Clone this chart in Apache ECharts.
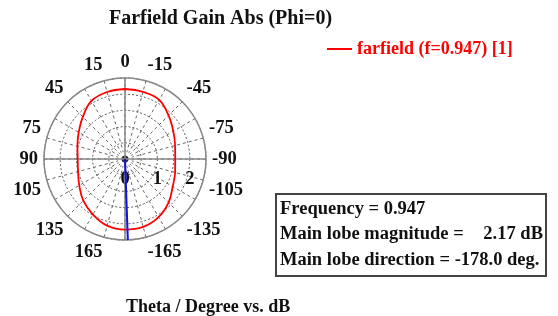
<!DOCTYPE html>
<html>
<head>
<meta charset="utf-8">
<script src="https://cdn.jsdelivr.net/npm/echarts@6/dist/echarts.min.js"></script>
<style>
    html, body { margin: 0; padding: 0; background: #fff; }
    #chart { width: 558px; height: 316px; }
</style>
</head>
<body>
<div id="chart"></div>
<script>
    // theta in degrees (CST convention: 0 up, positive to the left)
    const thetas = [0, 15, 30, 45, 60, 75, 90, 105, 120, 135, 150, 165, 180,
        -165, -150, -135, -120, -105, -90, -75, -60, -45, -30, -15]
    // farfield gain abs in dB
    const gains = [2.16, 2.14, 2.07, 1.84, 1.65, 1.52, 1.46, 1.50, 1.63, 1.82, 1.98, 2.13, 2.18,
        2.17, 2.07, 1.90, 1.70, 1.60, 1.55, 1.60, 1.72, 1.90, 2.11, 2.145]
    const angleLabels = [0, 15, -15, 45, -45, 75, -75, 90, -90, 105, -105, 135, -135, 165, -165]
    const radiusLabels = [0, 1, 2]
    const rMax = 2.5
    const frequency = '0.947'
    const mainLobeMag = '2.17 dB'
    const mainLobeDir = -178.0
    const seriesName = 'farfield (f=0.947) [1]'

    const font = 'Liberation Serif'
    const labelSize = 18.5
    // angle axis runs -90..270 so the radius axis lies along theta = -90
    const toAxis = t => (t < -90 ? t + 360 : t)

    const curve = thetas.map((t, i) => [gains[i], toAxis(t)])
    curve.push(curve[0])

    // echarts centres labels near the axes; push these to the side like the original
    const ctx = document.createElement('canvas').getContext('2d')
    ctx.font = 'bold ' + labelSize + 'px ' + font
    const rich = {}
    const richKey = t => 'a' + (t < 0 ? 'm' : 'p') + Math.abs(t)
    angleLabels.forEach(t => {
        const w = ctx.measureText(String(t)).width
        const h = 17
        const a = Math.abs(t)
        let padding = [0, 0, 0, 0]
        if (a === 15 || a === 165) padding = t > 0 ? [0, w, 0, 0] : [0, 0, 0, w]
        if (a === 75) padding = [0, 0, h, 0]
        if (a === 105) padding = [h, 0, 0, 0]
        rich[richKey(t)] = {
            padding: padding,
            fontFamily: font, fontWeight: 'bold', fontSize: labelSize, color: '#111'
        }
    })

    const chart = echarts.init(document.getElementById('chart'))
    const options = {
        animation: false,
        title: [
            {
                text: 'Farfield Gain Abs (Phi=0)',
                left: 104, top: 4,
                textStyle: { fontFamily: font, fontWeight: 'bold', fontSize: 20, color: '#111' }
            },
            {
                text: 'Theta / Degree vs. dB',
                left: 121, top: 293,
                textStyle: { fontFamily: font, fontWeight: 'bold', fontSize: 18, color: '#111' }
            }
        ],
        legend: {
            data: [seriesName],
            left: 322, top: 35,
            icon: 'rect',
            itemWidth: 25, itemHeight: 2,
            itemGap: 5,
            textStyle: { fontFamily: font, fontWeight: 'bold', fontSize: 18, color: '#f00' }
        },
        polar: { center: [125, 159], radius: 81 },
        angleAxis: {
            type: 'value',
            min: -90, max: 270, interval: 15,
            startAngle: 0, clockwise: false,
            axisLine: { lineStyle: { color: '#888', width: 1.5 } },
            axisTick: { show: false },
            axisLabel: {
                margin: 6,
                fontFamily: font, fontWeight: 'bold', fontSize: labelSize, color: '#111',
                rich: rich,
                formatter: v => {
                    const t = v > 180 ? v - 360 : v
                    return angleLabels.includes(t) ? '{' + richKey(t) + '|' + t + '}' : ''
                }
            },
            splitLine: { lineStyle: { color: '#666', type: [3, 3], width: 1 } }
        },
        radiusAxis: {
            type: 'value',
            min: 0, max: rMax, interval: 0.5,
            axisLine: { show: false },
            axisTick: { show: false },
            axisLabel: {
                margin: -20,
                verticalAlign: 'middle',
                fontFamily: font, fontWeight: 'bold', fontSize: labelSize, color: '#111',
                formatter: v => (radiusLabels.includes(v) ? String(v) : '')
            },
            splitLine: { lineStyle: { color: '#555', type: [2, 2], width: 1 } }
        },
        series: [
            {
                type: 'line', coordinateSystem: 'polar', silent: true,
                symbol: 'none',
                lineStyle: { color: '#888', width: 1.5 },
                data: [[rMax, -90], [rMax, 90]]
            },
            {
                type: 'line', coordinateSystem: 'polar', silent: true,
                symbol: 'none',
                lineStyle: { color: '#888', width: 1.5 },
                data: [[rMax, 0], [rMax, 180]]
            },
            {
                name: seriesName,
                type: 'line', coordinateSystem: 'polar',
                symbol: 'none', smooth: 0.4,
                color: '#f00',
                lineStyle: { color: '#f00', width: 1.8 },
                data: curve
            },
            {
                type: 'line', coordinateSystem: 'polar', silent: true,
                symbol: 'none',
                lineStyle: { color: '#1010e0', width: 2 },
                data: [[0, toAxis(mainLobeDir)], [rMax, toAxis(mainLobeDir)]]
            },
            {
                type: 'scatter', coordinateSystem: 'polar', silent: true,
                symbol: 'emptyCircle', symbolSize: 13,
                itemStyle: { color: '#fff', borderColor: '#aaa', borderWidth: 1.5 },
                data: [[0, 0]]
            },
            {
                type: 'scatter', coordinateSystem: 'polar', silent: true,
                symbolSize: 7,
                itemStyle: { color: '#000' },
                data: [[0, 0]]
            }
        ],
        graphic: [
            {
                type: 'rect',
                shape: { x: 276, y: 194, width: 270, height: 82 },
                style: { fill: '#fff', stroke: '#444', lineWidth: 2 }
            },
            {
                type: 'text', x: 280, y: 209,
                style: { text: 'Frequency = ' + frequency, font: 'bold 18.5px ' + font, fill: '#111', verticalAlign: 'middle' }
            },
            {
                type: 'text', x: 280, y: 234,
                style: { text: 'Main lobe magnitude =', font: 'bold 18.5px ' + font, fill: '#111', verticalAlign: 'middle' }
            },
            {
                type: 'text', x: 543, y: 234,
                style: { text: mainLobeMag, font: 'bold 18.5px ' + font, fill: '#111', align: 'right', verticalAlign: 'middle' }
            },
            {
                type: 'text', x: 280, y: 260,
                style: { text: 'Main lobe direction = ' + mainLobeDir.toFixed(1) + ' deg.', font: 'bold 18.5px ' + font, fill: '#111', verticalAlign: 'middle' }
            }
        ]
    }
    chart.setOption(options)
</script>
</body>
</html>
